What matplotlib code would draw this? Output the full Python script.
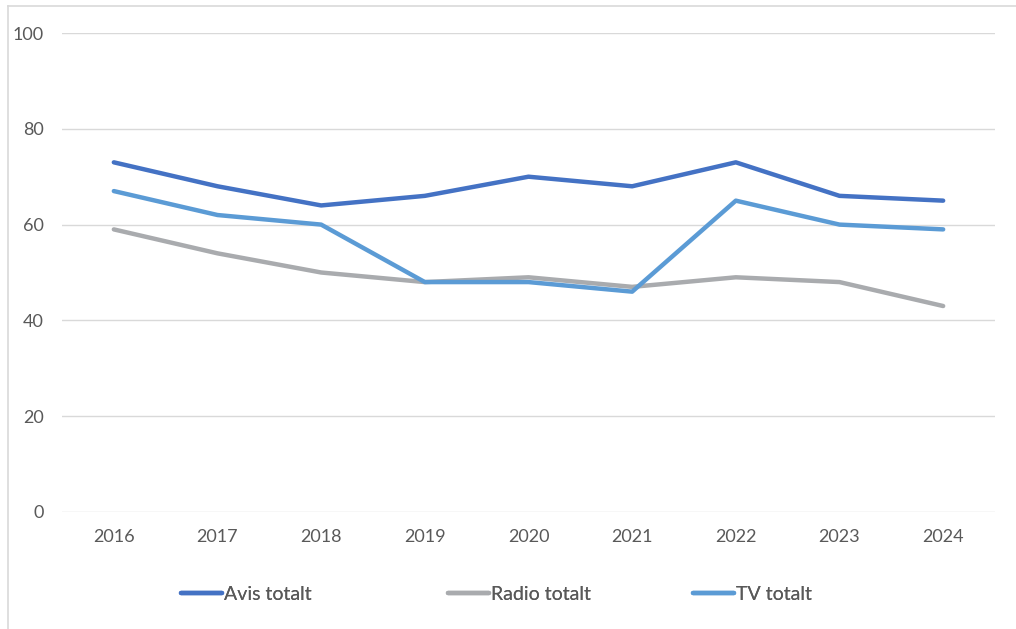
import matplotlib
matplotlib.use("Agg")
import matplotlib.pyplot as plt
from matplotlib.lines import Line2D

years = ["2016", "2017", "2018", "2019", "2020", "2021", "2022", "2023", "2024"]
avis = [73, 68, 64, 66, 70, 68, 73, 66, 65]
radio = [59, 54, 50, 48, 49, 47, 49, 48, 43]
tv = [67, 62, 60, 48, 48, 46, 65, 60, 59]
series_names = ["Avis totalt", "Radio totalt", "TV totalt"]
colors = ["#4472C4", "#A9ABAE", "#5B9BD5"]

plt.rcParams['font.family'] = ['Lato', 'DejaVu Sans']
txt = "#595959"

W, H = 1016, 629
fig = plt.figure(figsize=(W / 100, H / 100), dpi=100)
ax = fig.add_axes([62 / W, 1 - 512 / H, (995 - 62) / W, (512 - 33) / H])

x = list(range(len(years)))
lines = []
for vals, c, name in zip([avis, radio, tv], colors, series_names):
    ln, = ax.plot(x, vals, color=c, lw=3.2, solid_capstyle='round',
                  solid_joinstyle='round', label=name)
    lines.append(ln)

ax.set_xlim(-0.5, len(years) - 0.5)
ax.set_ylim(0, 100)
ax.set_yticks([0, 20, 40, 60, 80, 100])
ax.set_xticks(x)
ax.set_xticklabels(years)
ax.yaxis.grid(True, color="#D9D9D9", lw=1.0)
ax.set_axisbelow(True)
for s in ax.spines.values():
    s.set_visible(False)
ax.tick_params(axis='both', length=0, labelsize=13, colors=txt)
ax.tick_params(axis='y', pad=13)
ax.tick_params(axis='x', pad=12)

# legend entries (one per series, placed at the handle start)
starts = [181, 448, 693]
for ln, sx in zip(lines, starts):
    lg = fig.legend(handles=[ln], labels=[ln.get_label()], loc='center left',
                    bbox_to_anchor=(sx / W, 1 - 594 / H), frameon=False,
                    borderpad=0, borderaxespad=0, handlelength=2.1,
                    handletextpad=0.1, fontsize=14, labelcolor=txt)
    fig.add_artist(lg)

# outer border (top and left edges visible)
fig.add_artist(Line2D([7.5 / W, 1.0], [1 - 5.5 / H, 1 - 5.5 / H],
                      transform=fig.transFigure, color="#D9D9D9", lw=1.2))
fig.add_artist(Line2D([7.5 / W, 7.5 / W], [0.0, 1 - 5.5 / H],
                      transform=fig.transFigure, color="#D9D9D9", lw=1.2))

fig.savefig("out.png", dpi=100, facecolor="white")
